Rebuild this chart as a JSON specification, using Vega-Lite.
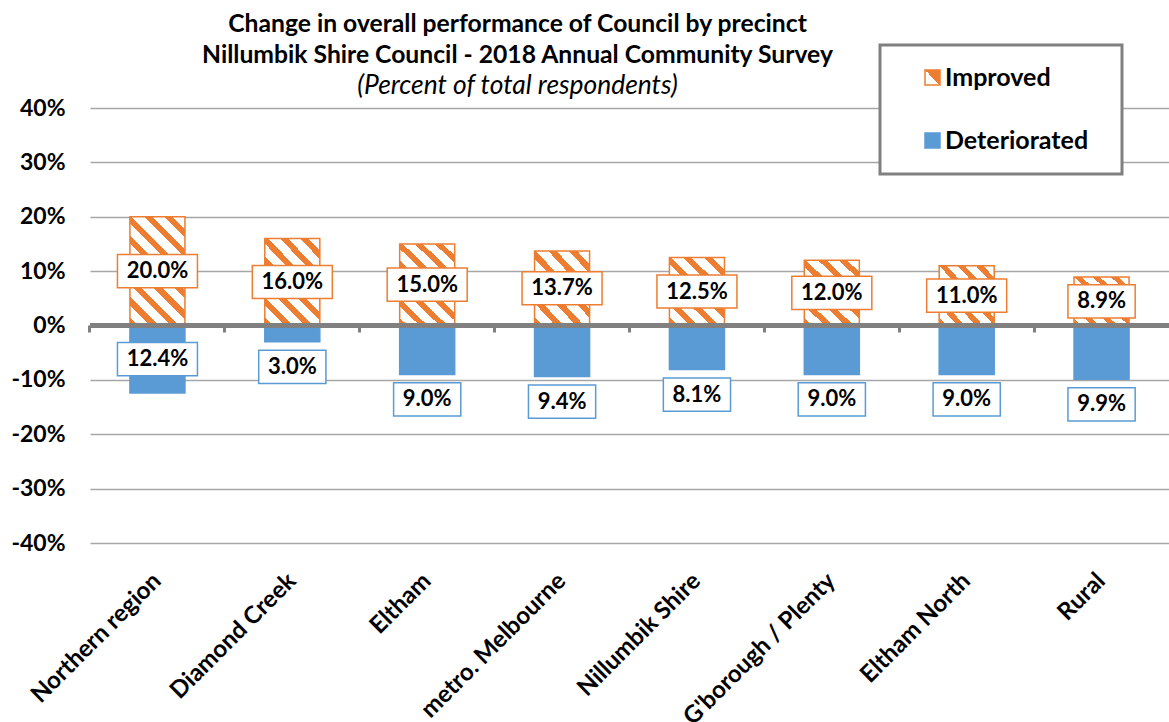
{
  "$schema": "https://vega.github.io/schema/vega-lite/v6.json",
  "width": 1079,
  "height": 435,
  "autosize": {"type": "none"},
  "padding": {"left": 90, "top": 108, "right": 0, "bottom": 179},
  "background": "white",
  "title": {
    "text": ["Change in overall performance of Council by precinct", "Nillumbik Shire Council - 2018 Annual Community Survey"],
    "subtitle": "(Percent of total respondents)",
    "anchor": "middle",
    "frame": "group",
    "dx": -112,
    "dy": 68,
    "font": "Lato",
    "fontSize": 24.7,
    "fontWeight": "bold",
    "color": "black",
    "lineHeight": 31,
    "subtitleFont": "Lato",
    "subtitleFontSize": 26.4,
    "subtitleFontStyle": "italic",
    "subtitleColor": "black",
    "subtitlePadding": 5,
    "offset": 12
  },
  "data": {
    "values": [
      {"precinct": "Northern region", "series": "Improved", "value": 20.0},
      {"precinct": "Northern region", "series": "Deteriorated", "value": -12.4},
      {"precinct": "Diamond Creek", "series": "Improved", "value": 16.0},
      {"precinct": "Diamond Creek", "series": "Deteriorated", "value": -3.0},
      {"precinct": "Eltham", "series": "Improved", "value": 15.0},
      {"precinct": "Eltham", "series": "Deteriorated", "value": -9.0},
      {"precinct": "metro. Melbourne", "series": "Improved", "value": 13.7},
      {"precinct": "metro. Melbourne", "series": "Deteriorated", "value": -9.4},
      {"precinct": "Nillumbik Shire", "series": "Improved", "value": 12.5},
      {"precinct": "Nillumbik Shire", "series": "Deteriorated", "value": -8.1},
      {"precinct": "G'borough / Plenty", "series": "Improved", "value": 12.0},
      {"precinct": "G'borough / Plenty", "series": "Deteriorated", "value": -9.0},
      {"precinct": "Eltham North", "series": "Improved", "value": 11.0},
      {"precinct": "Eltham North", "series": "Deteriorated", "value": -9.0},
      {"precinct": "Rural", "series": "Improved", "value": 8.9},
      {"precinct": "Rural", "series": "Deteriorated", "value": -9.9}
    ]
  },
  "transform": [
    {"calculate": "datum.series === 'Improved' ? datum.value / 2 : (datum.value <= -10 ? datum.value / 2 : datum.value - 4.6)", "as": "labelY"},
    {"calculate": "format(abs(datum.value), '.1f') + '%'", "as": "label"}
  ],
  "resolve": {"axis": {"x": "independent"}},
  "layer": [
    {
      "mark": {"type": "bar", "strokeWidth": 1.5},
      "encoding": {
        "x": {
          "field": "precinct",
          "type": "nominal",
          "sort": null,
          "scale": {"paddingInner": 0.592, "paddingOuter": 0.296},
          "axis": {
            "title": null,
            "orient": "bottom",
            "labelAngle": -45,
            "labelAlign": "right",
            "labelBaseline": "middle",
            "labelFont": "Lato",
            "labelFontWeight": "bold",
            "labelFontSize": 24,
            "labelColor": "black",
            "labelPadding": 34,
            "labelLimit": 400,
            "ticks": false,
            "domain": false,
            "grid": false
          }
        },
        "y": {
          "field": "value",
          "type": "quantitative",
          "scale": {"domain": [-40, 40]},
          "title": null,
          "axis": {
            "title": null,
            "values": [-40, -30, -20, -10, 0, 10, 20, 30, 40],
            "labelExpr": "datum.value + '%'",
            "labelFont": "Lato",
            "labelFontWeight": "bold",
            "labelFontSize": 23,
            "labelColor": "black",
            "labelPadding": 25,
            "ticks": false,
            "domain": false,
            "grid": true,
            "gridColor": "#A6A6A6",
            "gridWidth": 1.5
          }
        },
        "y2": {"datum": 0},
        "fill": {
          "condition": [
            {"test": "datum.series === 'Deteriorated'", "value": "#5B9BD5"},
            {"test": "datum.value >= 18", "value": {"gradient": "linear", "x1": 0, "y1": 1, "x2": 0.607, "y2": -0.199, "stops": [
              {"offset": 0, "color": "#ED7D31"}, {"offset": 0.05, "color": "#ED7D31"}, {"offset": 0.05, "color": "#FFFFFF"}, {"offset": 0.125, "color": "#FFFFFF"},
              {"offset": 0.125, "color": "#ED7D31"}, {"offset": 0.175, "color": "#ED7D31"}, {"offset": 0.175, "color": "#FFFFFF"}, {"offset": 0.25, "color": "#FFFFFF"},
              {"offset": 0.25, "color": "#ED7D31"}, {"offset": 0.3, "color": "#ED7D31"}, {"offset": 0.3, "color": "#FFFFFF"}, {"offset": 0.375, "color": "#FFFFFF"},
              {"offset": 0.375, "color": "#ED7D31"}, {"offset": 0.425, "color": "#ED7D31"}, {"offset": 0.425, "color": "#FFFFFF"}, {"offset": 0.5, "color": "#FFFFFF"},
              {"offset": 0.5, "color": "#ED7D31"}, {"offset": 0.55, "color": "#ED7D31"}, {"offset": 0.55, "color": "#FFFFFF"}, {"offset": 0.625, "color": "#FFFFFF"},
              {"offset": 0.625, "color": "#ED7D31"}, {"offset": 0.675, "color": "#ED7D31"}, {"offset": 0.675, "color": "#FFFFFF"}, {"offset": 0.75, "color": "#FFFFFF"},
              {"offset": 0.75, "color": "#ED7D31"}, {"offset": 0.8, "color": "#ED7D31"}, {"offset": 0.8, "color": "#FFFFFF"}, {"offset": 0.875, "color": "#FFFFFF"},
              {"offset": 0.875, "color": "#ED7D31"}, {"offset": 0.925, "color": "#ED7D31"}, {"offset": 0.925, "color": "#FFFFFF"}, {"offset": 1, "color": "#FFFFFF"}
            ]}},
            {"test": "datum.value >= 14", "value": {"gradient": "linear", "x1": 0, "y1": 1, "x2": 0.751, "y2": -0.161, "stops": [
              {"offset": 0, "color": "#ED7D31"}, {"offset": 0.057, "color": "#ED7D31"}, {"offset": 0.057, "color": "#FFFFFF"}, {"offset": 0.143, "color": "#FFFFFF"},
              {"offset": 0.143, "color": "#ED7D31"}, {"offset": 0.2, "color": "#ED7D31"}, {"offset": 0.2, "color": "#FFFFFF"}, {"offset": 0.286, "color": "#FFFFFF"},
              {"offset": 0.286, "color": "#ED7D31"}, {"offset": 0.343, "color": "#ED7D31"}, {"offset": 0.343, "color": "#FFFFFF"}, {"offset": 0.429, "color": "#FFFFFF"},
              {"offset": 0.429, "color": "#ED7D31"}, {"offset": 0.486, "color": "#ED7D31"}, {"offset": 0.486, "color": "#FFFFFF"}, {"offset": 0.571, "color": "#FFFFFF"},
              {"offset": 0.571, "color": "#ED7D31"}, {"offset": 0.629, "color": "#ED7D31"}, {"offset": 0.629, "color": "#FFFFFF"}, {"offset": 0.714, "color": "#FFFFFF"},
              {"offset": 0.714, "color": "#ED7D31"}, {"offset": 0.771, "color": "#ED7D31"}, {"offset": 0.771, "color": "#FFFFFF"}, {"offset": 0.857, "color": "#FFFFFF"},
              {"offset": 0.857, "color": "#ED7D31"}, {"offset": 0.914, "color": "#ED7D31"}, {"offset": 0.914, "color": "#FFFFFF"}, {"offset": 1, "color": "#FFFFFF"}
            ]}},
            {"test": "datum.value >= 11.5", "value": {"gradient": "linear", "x1": 0, "y1": 1, "x2": 0.876, "y2": -0.099, "stops": [
              {"offset": 0, "color": "#ED7D31"}, {"offset": 0.067, "color": "#ED7D31"}, {"offset": 0.067, "color": "#FFFFFF"}, {"offset": 0.167, "color": "#FFFFFF"},
              {"offset": 0.167, "color": "#ED7D31"}, {"offset": 0.233, "color": "#ED7D31"}, {"offset": 0.233, "color": "#FFFFFF"}, {"offset": 0.333, "color": "#FFFFFF"},
              {"offset": 0.333, "color": "#ED7D31"}, {"offset": 0.4, "color": "#ED7D31"}, {"offset": 0.4, "color": "#FFFFFF"}, {"offset": 0.5, "color": "#FFFFFF"},
              {"offset": 0.5, "color": "#ED7D31"}, {"offset": 0.567, "color": "#ED7D31"}, {"offset": 0.567, "color": "#FFFFFF"}, {"offset": 0.667, "color": "#FFFFFF"},
              {"offset": 0.667, "color": "#ED7D31"}, {"offset": 0.733, "color": "#ED7D31"}, {"offset": 0.733, "color": "#FFFFFF"}, {"offset": 0.833, "color": "#FFFFFF"},
              {"offset": 0.833, "color": "#ED7D31"}, {"offset": 0.9, "color": "#ED7D31"}, {"offset": 0.9, "color": "#FFFFFF"}, {"offset": 1, "color": "#FFFFFF"}
            ]}}
          ],
          "value": {"gradient": "linear", "x1": 0, "y1": 1, "x2": 1, "y2": 0, "stops": [
            {"offset": 0, "color": "#ED7D31"}, {"offset": 0.067, "color": "#ED7D31"}, {"offset": 0.067, "color": "#FFFFFF"}, {"offset": 0.167, "color": "#FFFFFF"},
            {"offset": 0.167, "color": "#ED7D31"}, {"offset": 0.233, "color": "#ED7D31"}, {"offset": 0.233, "color": "#FFFFFF"}, {"offset": 0.333, "color": "#FFFFFF"},
            {"offset": 0.333, "color": "#ED7D31"}, {"offset": 0.4, "color": "#ED7D31"}, {"offset": 0.4, "color": "#FFFFFF"}, {"offset": 0.5, "color": "#FFFFFF"},
            {"offset": 0.5, "color": "#ED7D31"}, {"offset": 0.567, "color": "#ED7D31"}, {"offset": 0.567, "color": "#FFFFFF"}, {"offset": 0.667, "color": "#FFFFFF"},
            {"offset": 0.667, "color": "#ED7D31"}, {"offset": 0.733, "color": "#ED7D31"}, {"offset": 0.733, "color": "#FFFFFF"}, {"offset": 0.833, "color": "#FFFFFF"},
            {"offset": 0.833, "color": "#ED7D31"}, {"offset": 0.9, "color": "#ED7D31"}, {"offset": 0.9, "color": "#FFFFFF"}, {"offset": 1, "color": "#FFFFFF"}
          ]}
        },
        "stroke": {"condition": {"test": "datum.series === 'Improved'", "value": "#ED7D31"}, "value": "#5B9BD5"}
      }
    },
    {
      "transform": [{"filter": "false"}],
      "mark": {"type": "bar", "strokeWidth": 1.5},
      "encoding": {
        "x": {
          "field": "precinct",
          "type": "nominal",
          "sort": null,
          "axis": {
            "title": null,
            "orient": "bottom",
            "offset": -218,
            "labels": false,
            "domain": false,
            "grid": false,
            "ticks": true,
            "bandPosition": -0.726,
            "tickSize": 7,
            "tickWidth": 3,
            "tickColor": "#808080"
          }
        },
        "y": {"field": "value", "type": "quantitative", "title": null},
        "y2": {"datum": 0},
        "fill": {
          "field": "series",
          "type": "nominal",
          "scale": {"domain": ["Improved", "Deteriorated"], "range": [{"expr": "{gradient: 'linear', x1: 0, y1: 1, x2: 1, y2: 0, stops: [{offset: 0, color: '#FFFFFF'}, {offset: 0.5, color: '#FFFFFF'}, {offset: 0.5, color: '#ED7D31'}, {offset: 1, color: '#ED7D31'}]}"}, "#5B9BD5"]},
          "legend": {
            "title": "\u00a0",
            "titleOrient": "right",
            "titleFontSize": 10,
            "titlePadding": 14,
            "orient": "none",
            "legendX": 790,
            "legendY": -63,
            "direction": "vertical",
            "padding": 20,
            "rowPadding": 37,
            "symbolType": "square",
            "symbolSize": 225,
            "symbolStrokeWidth": 1.5,
            "symbolOffset": 20,
            "labelOffset": 0,
            "labelFont": "Lato",
            "labelFontWeight": "bold",
            "labelFontSize": 25,
            "labelColor": "black",
            "labelLimit": 300,
            "strokeColor": "#808080",
            "fillColor": "white"
          }
        },
        "stroke": {
          "field": "series",
          "type": "nominal",
          "scale": {"domain": ["Improved", "Deteriorated"], "range": ["#ED7D31", "#5B9BD5"]},
          "legend": {
            "title": "\u00a0",
            "titleOrient": "right",
            "titleFontSize": 10,
            "titlePadding": 14,
            "orient": "none",
            "legendX": 790,
            "legendY": -63,
            "direction": "vertical",
            "padding": 20,
            "rowPadding": 37,
            "symbolType": "square",
            "symbolSize": 225,
            "symbolStrokeWidth": 1.5,
            "symbolOffset": 20,
            "labelOffset": 0,
            "labelFont": "Lato",
            "labelFontWeight": "bold",
            "labelFontSize": 25,
            "labelColor": "black",
            "labelLimit": 300,
            "strokeColor": "#808080",
            "fillColor": "white"
          }
        }
      }
    },
    {
      "mark": {"type": "rule", "color": "#808080", "strokeWidth": 4},
      "encoding": {"y": {"datum": 0}}
    },
    {
      "mark": {"type": "point", "filled": true, "fill": "white", "size": 1600, "strokeWidth": 1.5, "opacity": 1},
      "encoding": {
        "x": {"field": "precinct", "type": "nominal", "sort": null, "axis": null},
        "y": {"field": "labelY", "type": "quantitative", "title": null},
        "shape": {"condition": {"test": "abs(datum.value) >= 10", "value": "M-2,-0.83H2V0.83H-2Z"}, "value": "M-1.68,-0.83H1.68V0.83H-1.68Z"},
        "stroke": {"condition": {"test": "datum.series === 'Improved'", "value": "#ED7D31"}, "value": "#5B9BD5"}
      }
    },
    {
      "mark": {"type": "text", "font": "Lato", "fontWeight": "bold", "fontSize": 22, "color": "black"},
      "encoding": {
        "x": {"field": "precinct", "type": "nominal", "sort": null, "axis": null},
        "y": {"field": "labelY", "type": "quantitative", "title": null},
        "text": {"field": "label"}
      }
    }
  ],
  "config": {
    "view": {"stroke": null},
    "legend": {"strokeWidth": 3}
  }
}
